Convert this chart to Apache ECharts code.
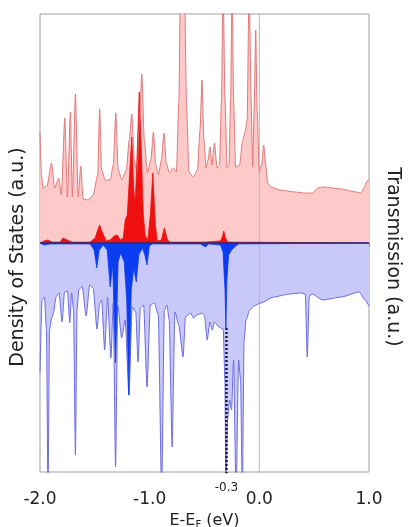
<!DOCTYPE html>
<html>
<head>
<meta charset="utf-8">
<script src="https://cdn.jsdelivr.net/npm/echarts@6/dist/echarts.min.js"></script>
<style>
  html, body { margin: 0; padding: 0; background: #fff; }
  #main { width: 409px; height: 527px; }
</style>
</head>
<body>
<div id="main"></div>
<script>
// energy (eV) vs DOS (a.u.), spin up positive, spin down negative
var upTotal = [
  [-2.000, 0.480], [-1.986, 0.297], [-1.973, 0.240], [-1.936, 0.249], [-1.895, 0.349],
  [-1.866, 0.240], [-1.829, 0.284], [-1.805, 0.210], [-1.774, 0.546], [-1.750, 0.201],
  [-1.723, 0.572], [-1.705, 0.201], [-1.677, 0.651], [-1.652, 0.201], [-1.628, 0.336],
  [-1.607, 0.192], [-1.561, 0.188], [-1.515, 0.210], [-1.474, 0.297], [-1.456, 0.585],
  [-1.438, 0.319], [-1.405, 0.275], [-1.360, 0.275], [-1.332, 0.341], [-1.309, 0.568],
  [-1.287, 0.319], [-1.253, 0.275], [-1.213, 0.319], [-1.186, 0.450], [-1.163, 0.563],
  [-1.140, 0.362], [-1.117, 0.306], [-1.090, 0.581], [-1.072, 0.738], [-1.049, 0.450],
  [-1.021, 0.306], [-0.989, 0.362], [-0.966, 0.485], [-0.944, 0.341], [-0.921, 0.297],
  [-0.893, 0.362], [-0.870, 0.480], [-0.848, 0.349], [-0.820, 0.306], [-0.784, 0.328],
  [-0.756, 0.310], [-0.733, 0.624], [-0.720, 1.150], [-0.683, 1.150], [-0.665, 0.624],
  [-0.642, 0.310], [-0.601, 0.288], [-0.564, 0.319], [-0.541, 0.493], [-0.523, 0.712],
  [-0.505, 0.450], [-0.486, 0.328], [-0.468, 0.362], [-0.450, 0.419], [-0.432, 0.341],
  [-0.409, 0.437], [-0.386, 0.328], [-0.363, 0.341], [-0.345, 0.624], [-0.331, 1.150],
  [-0.313, 0.624], [-0.294, 0.328], [-0.276, 0.341], [-0.262, 0.624], [-0.248, 1.150],
  [-0.235, 0.624], [-0.216, 0.332], [-0.180, 0.341], [-0.152, 0.450], [-0.130, 0.485],
  [-0.111, 0.537], [-0.093, 1.150], [-0.075, 0.624], [-0.061, 0.332], [-0.047, 0.581],
  [-0.033, 0.930], [-0.020, 0.581], [-0.001, 0.310], [0.021, 0.341], [0.040, 0.428],
  [0.058, 0.341], [0.076, 0.262], [0.104, 0.245], [0.195, 0.231], [0.314, 0.223],
  [0.424, 0.218], [0.488, 0.218], [0.533, 0.240], [0.579, 0.245], [0.744, 0.236],
  [0.881, 0.223], [0.927, 0.218], [0.954, 0.240], [0.982, 0.271], [1.000, 0.275]
];
var upPartial = [
  [-2.000, 0.000], [-1.963, 0.009], [-1.927, 0.013], [-1.890, 0.004], [-1.817, 0.004],
  [-1.790, 0.022], [-1.753, 0.013], [-1.707, 0.004], [-1.543, 0.004], [-1.497, 0.022],
  [-1.474, 0.057], [-1.456, 0.079], [-1.433, 0.048], [-1.396, 0.009], [-1.360, 0.013],
  [-1.323, 0.031], [-1.296, 0.035], [-1.268, 0.013], [-1.241, 0.022], [-1.223, 0.100],
  [-1.204, 0.122], [-1.181, 0.319], [-1.163, 0.463], [-1.145, 0.231], [-1.131, 0.175],
  [-1.113, 0.406], [-1.095, 0.659], [-1.076, 0.406], [-1.058, 0.122], [-1.040, 0.031],
  [-1.017, 0.013], [-0.994, 0.122], [-0.971, 0.306], [-0.948, 0.079], [-0.930, 0.009],
  [-0.893, 0.013], [-0.866, 0.066], [-0.838, 0.013], [-0.811, 0.004], [-0.491, 0.004],
  [-0.354, 0.009], [-0.335, 0.031], [-0.324, 0.052], [-0.308, 0.022], [-0.290, 0.004],
  [1.000, 0.000]
];
var downTotal = [
  [-2.000, -0.568], [-1.982, -0.249], [-1.959, -0.236], [-1.941, -0.380], [-1.927, -1.100],
  [-1.913, -0.380], [-1.893, -0.328], [-1.877, -0.306], [-1.854, -0.236], [-1.826, -0.218],
  [-1.799, -0.345], [-1.776, -0.214], [-1.750, -0.210], [-1.728, -0.349], [-1.712, -0.218],
  [-1.694, -0.293], [-1.677, -0.926], [-1.662, -0.293], [-1.646, -0.205], [-1.616, -0.188],
  [-1.579, -0.319], [-1.547, -0.183], [-1.515, -0.197], [-1.480, -0.376], [-1.456, -0.262],
  [-1.438, -0.249], [-1.410, -0.467], [-1.384, -0.236], [-1.353, -0.502], [-1.332, -0.262],
  [-1.311, -0.978], [-1.291, -0.271], [-1.255, -0.415], [-1.223, -0.336], [-1.189, -0.664],
  [-1.159, -0.279], [-1.127, -0.301], [-1.106, -0.520], [-1.085, -0.284], [-1.055, -0.271],
  [-1.024, -0.629], [-0.994, -0.271], [-0.957, -0.262], [-0.921, -0.314], [-0.891, -1.100],
  [-0.866, -0.293], [-0.843, -0.271], [-0.822, -0.336], [-0.795, -0.891], [-0.770, -0.301],
  [-0.735, -0.358], [-0.695, -0.498], [-0.674, -0.323], [-0.628, -0.306], [-0.598, -0.328],
  [-0.567, -0.314], [-0.521, -0.306], [-0.500, -0.319], [-0.475, -0.424], [-0.452, -0.345],
  [-0.430, -0.380], [-0.409, -0.345], [-0.369, -0.367], [-0.329, -0.376], [-0.314, -0.598],
  [-0.305, -1.100], [-0.290, -0.773], [-0.271, -0.686], [-0.253, -0.729], [-0.235, -0.511],
  [-0.212, -1.100], [-0.189, -0.511], [-0.171, -0.598], [-0.155, -1.100], [-0.139, -0.424],
  [-0.121, -0.336], [-0.088, -0.293], [-0.052, -0.275], [0.013, -0.262], [0.131, -0.236],
  [0.268, -0.223], [0.378, -0.218], [0.419, -0.223], [0.437, -0.498], [0.456, -0.231],
  [0.485, -0.223], [0.576, -0.249], [0.744, -0.236], [0.911, -0.214], [0.963, -0.249],
  [1.000, -0.275]
];
var downPartial = [
  [-2.000, 0.000], [-1.963, -0.009], [-1.909, -0.004], [-1.543, -0.004], [-1.506, -0.031],
  [-1.482, -0.109], [-1.460, -0.031], [-1.424, -0.009], [-1.387, -0.031], [-1.360, -0.192],
  [-1.337, -0.096], [-1.311, -0.524], [-1.288, -0.083], [-1.264, -0.044], [-1.232, -0.083],
  [-1.209, -0.249], [-1.190, -0.664], [-1.168, -0.205], [-1.145, -0.109], [-1.122, -0.170],
  [-1.099, -0.052], [-1.067, -0.022], [-1.044, -0.052], [-1.024, -0.096], [-1.003, -0.013],
  [-0.976, -0.004], [-0.537, -0.004], [-0.491, -0.017], [-0.463, -0.004], [-0.354, -0.009],
  [-0.331, -0.039], [-0.313, -0.205], [-0.305, -0.371], [-0.296, -0.162], [-0.280, -0.052],
  [-0.253, -0.031], [-0.226, -0.017], [-0.189, -0.004], [1.000, 0.000]
];
var fermiLine = [[0, -1.2], [0, 1.2]];
var zeroLine = [[-2, 0], [1, 0]];
var markerLine = [[-0.3, -0.371], [-0.3, -1.05]];
var markerLabel = -0.3;

var font = '"DejaVu Sans", Lato, sans-serif';
var myChart = echarts.init(document.getElementById('main'));

myChart.setOption({
  animation: false,
  backgroundColor: '#fff',
  grid: {
    left: 40, right: 40, top: 14, bottom: 55,
    outerBoundsMode: 'none',
    containLabel: false,
    show: true,
    borderColor: '#a0a0a0',
    borderWidth: 1
  },
  // side titles, both sit a little below the plot centre in the original
  graphic: [
    {
      type: 'text', x: 18, y: 257, rotation: Math.PI / 2,
      style: {
        text: 'Density of States (a.u.)', fill: '#222',
        font: '19px "DejaVu Sans", Lato, sans-serif',
        align: 'center', verticalAlign: 'middle'
      }
    },
    {
      type: 'text', x: 393, y: 257, rotation: -Math.PI / 2,
      style: {
        text: 'Transmission (a.u.)', fill: '#222',
        font: '19px "DejaVu Sans", Lato, sans-serif',
        align: 'center', verticalAlign: 'middle'
      }
    }
  ],
  xAxis: [
    {
      type: 'value',
      min: -2, max: 1, interval: 0.5,
      name: 'E-E{s|F} (eV)',
      nameLocation: 'middle',
      nameGap: 37,
      nameTextStyle: {
        fontFamily: font, fontSize: 16, color: '#222',
        rich: { s: { fontFamily: font, fontSize: 10, color: '#222', padding: [9, 0, 0, 0] } }
      },
      axisLine: { lineStyle: { color: '#a0a0a0', width: 1 } },
      axisTick: { length: 4, lineStyle: { color: '#999' } },
      splitLine: { show: false },
      axisLabel: {
        fontFamily: font, fontSize: 17, color: '#222', margin: 19,
        formatter: function (v) {
          return Math.abs(v - Math.round(v)) < 1e-6 ? v.toFixed(1) : '';
        }
      }
    },
    {
      type: 'value',
      min: -2, max: 1, interval: 0.1,
      position: 'bottom',
      axisLine: { show: false },
      axisTick: { show: false },
      splitLine: { show: false },
      axisLabel: {
        interval: 0,
        fontFamily: font, fontSize: 12, color: '#222', margin: 10,
        formatter: function (v) {
          return Math.abs(v - markerLabel) < 1e-6 ? markerLabel.toFixed(1) : '';
        }
      }
    }
  ],
  yAxis: {
    type: 'value',
    min: -1, max: 1,
    axisLine: { show: false },
    axisTick: { show: false },
    axisLabel: { show: false },
    splitLine: { show: false }
  },
  series: [
    {
      type: 'line', data: fermiLine, showSymbol: false, silent: true,
      lineStyle: { color: '#b8b8b8', width: 1 }
    },
    {
      type: 'line', data: upTotal, showSymbol: false,
      smooth: 0.2, smoothMonotone: 'x',
      lineStyle: { color: '#e07878', width: 1 },
      areaStyle: { color: '#fdc9c9', opacity: 1 }
    },
    {
      type: 'line', data: downTotal, showSymbol: false,
      smooth: 0.2, smoothMonotone: 'x',
      lineStyle: { color: '#6a6ae4', width: 1 },
      areaStyle: { color: '#c9c9f9', opacity: 1 }
    },
    {
      type: 'line', data: upPartial, showSymbol: false,
      lineStyle: { color: '#ee1010', width: 0.8 },
      areaStyle: { color: '#f01010', opacity: 1 }
    },
    {
      type: 'line', data: downPartial, showSymbol: false,
      lineStyle: { color: '#0a3cf0', width: 0.8 },
      areaStyle: { color: '#0a3cf0', opacity: 1 }
    },
    {
      type: 'line', data: zeroLine, showSymbol: false, silent: true,
      lineStyle: { color: '#2e2e72', width: 1.5 }
    },
    {
      type: 'line', data: markerLine, showSymbol: false, silent: true,
      lineStyle: { color: '#1a1a3a', width: 2.5, type: [2, 2] }
    }
  ]
});
</script>
</body>
</html>
